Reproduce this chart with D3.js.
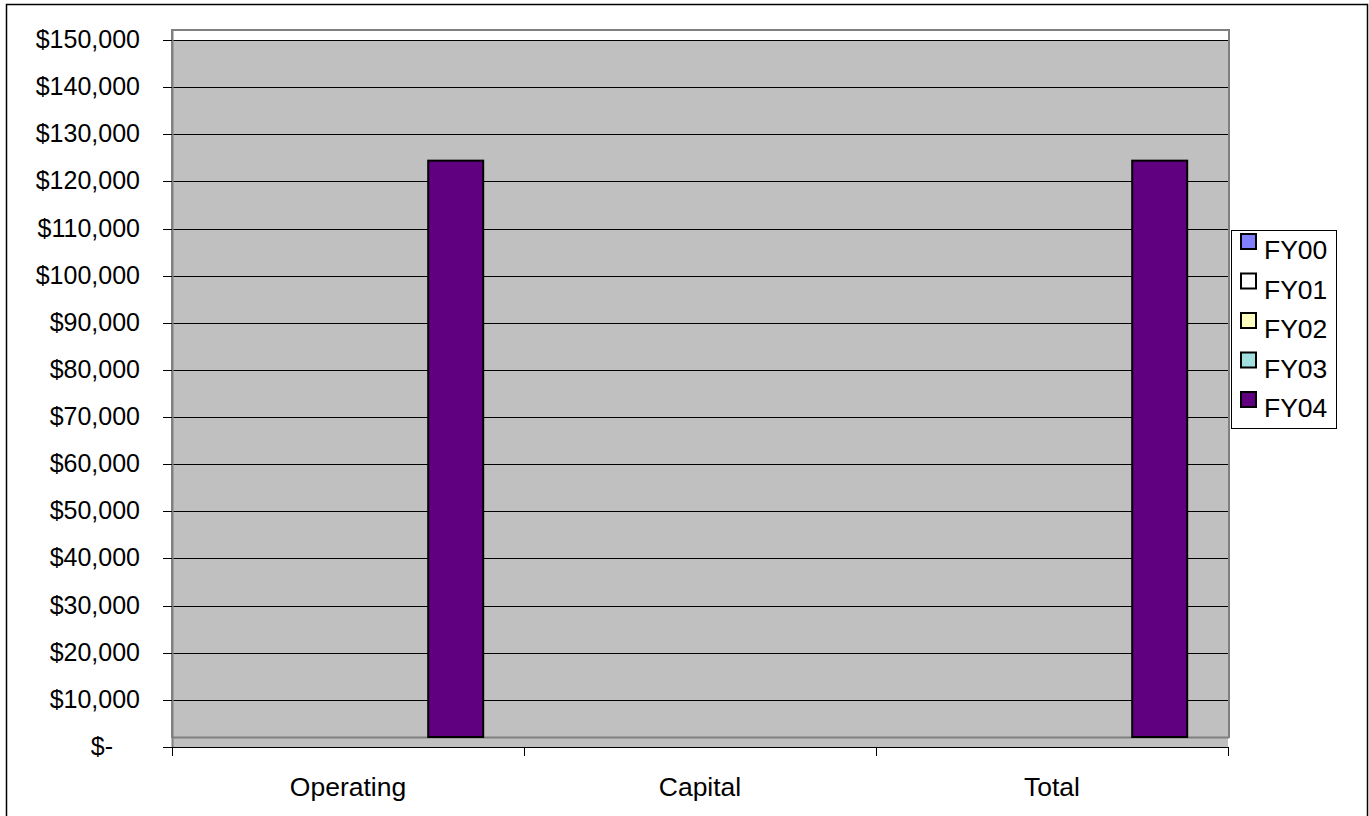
<!DOCTYPE html>
<html>
<head>
<meta charset="utf-8">
<script src="https://cdn.jsdelivr.net/npm/d3@7"></script>
<style>
  html, body { margin: 0; padding: 0; background: #fff; }
  svg { display: block; font-family: Arial, "Liberation Sans", sans-serif; }
</style>
</head>
<body>
<svg id="chart" width="1369" height="816"></svg>
<script>
// Budget categories and fiscal-year series
const categories = ["Operating", "Capital", "Total"];
const seriesNames = ["FY00", "FY01", "FY02", "FY03", "FY04"];
const seriesColors = ["#8080FF", "#FFFFFF", "#FFFFC0", "#A0E0E0", "#600080"];
const FY00 = [0, 0, 0];
const FY01 = [0, 0, 0];
const FY02 = [0, 0, 0];
const FY03 = [0, 0, 0];
const FY04 = [124400, 0, 124400];
const seriesValues = [FY00, FY01, FY02, FY03, FY04];
const yTicks = d3.range(0, 150001, 10000);

(function draw() {
  const svg = d3.select("#chart");

  // outer chart border
  svg.append("rect")
    .attr("x", 6.5).attr("y", 4.5)
    .attr("width", 1361).attr("height", 815)
    .attr("fill", "#fff").attr("stroke", "#000").attr("stroke-width", 1.5);

  const pLeft = 172, pRight = 1228, pTop = 40, pBottom = 747;
  const depth = 10; // floor depth of the plot wall

  const y = d3.scaleLinear().domain([0, 150000]).range([pBottom, pTop]);
  const x0 = d3.scaleBand().domain(categories).range([pLeft, pRight]).paddingInner(0).paddingOuter(0);
  const x1 = d3.scaleBand().domain(seriesNames).range([0, x0.bandwidth()])
    .paddingInner(0).paddingOuter(0.7).align(0.47);

  // plot wall
  const g = svg.append("g");
  g.append("rect")
    .attr("x", pLeft).attr("y", pTop - depth)
    .attr("width", pRight - pLeft + 1).attr("height", pBottom - pTop)
    .attr("fill", "#fff").attr("stroke", "#808080").attr("stroke-width", 2);
  g.append("rect")
    .attr("x", pLeft + 1).attr("y", pTop)
    .attr("width", pRight - pLeft - 1).attr("height", pBottom - depth - pTop)
    .attr("fill", "#C0C0C0");

  // floor
  g.append("rect")
    .attr("x", pLeft).attr("y", pBottom - depth)
    .attr("width", pRight - pLeft).attr("height", depth)
    .attr("fill", "#C0C0C0");
  g.append("line")
    .attr("x1", pLeft).attr("x2", pRight + 1)
    .attr("y1", pBottom - depth + 0.5).attr("y2", pBottom - depth + 0.5)
    .attr("stroke", "#808080").attr("stroke-width", 2);

  // gridlines
  g.selectAll("line.grid")
    .data(yTicks.filter(d => d > 0))
    .join("line")
    .attr("class", "grid")
    .attr("x1", pLeft).attr("x2", pRight)
    .attr("y1", d => Math.round(y(d)) + 0.5).attr("y2", d => Math.round(y(d)) + 0.5)
    .attr("stroke", "#000").attr("stroke-width", 1);

  // bars
  categories.forEach((cat, ci) => {
    seriesValues.forEach((vals, si) => {
      const v = vals[ci];
      if (v <= 0) return;
      g.append("rect")
        .attr("x", x0(cat) + x1(seriesNames[si]))
        .attr("y", y(v))
        .attr("width", x1.bandwidth())
        .attr("height", y(0) - depth - y(v))
        .attr("fill", seriesColors[si])
        .attr("stroke", "#000").attr("stroke-width", 2);
    });
  });

  // y axis
  const yAxis = svg.append("g");
  yAxis.append("line")
    .attr("x1", pLeft + 0.5).attr("x2", pLeft + 0.5)
    .attr("y1", pTop - depth).attr("y2", pBottom)
    .attr("stroke", "#808080").attr("stroke-width", 2);
  yAxis.selectAll("line.tick")
    .data(yTicks)
    .join("line")
    .attr("class", "tick")
    .attr("x1", pLeft - 9).attr("x2", pLeft)
    .attr("y1", d => Math.round(y(d)) + 0.5).attr("y2", d => Math.round(y(d)) + 0.5)
    .attr("stroke", "#000");
  const fmt = d3.format(",");
  yAxis.selectAll("text")
    .data(yTicks)
    .join("text")
    .attr("x", d => d === 0 ? 113 : 140)
    .attr("y", d => y(d) + 8)
    .attr("text-anchor", "end")
    .attr("font-size", 25)
    .attr("fill", "#000")
    .text(d => d === 0 ? "$-" : "$" + fmt(d));

  // x axis
  const xAxis = svg.append("g");
  xAxis.append("line")
    .attr("x1", pLeft).attr("x2", pRight + 1)
    .attr("y1", pBottom + 0.5).attr("y2", pBottom + 0.5)
    .attr("stroke", "#000");
  const bounds = categories.map(c => x0(c)).concat([pRight]);
  xAxis.selectAll("line.tick")
    .data(bounds)
    .join("line")
    .attr("class", "tick")
    .attr("x1", d => Math.round(d) + 0.5).attr("x2", d => Math.round(d) + 0.5)
    .attr("y1", pBottom).attr("y2", pBottom + 9)
    .attr("stroke", "#000");
  xAxis.selectAll("text")
    .data(categories)
    .join("text")
    .attr("x", d => x0(d) + x0.bandwidth() / 2)
    .attr("y", 796)
    .attr("text-anchor", "middle")
    .attr("font-size", 26.5)
    .attr("fill", "#000")
    .text(d => d);

  // legend
  const lg = svg.append("g");
  lg.append("rect")
    .attr("x", 1231.5).attr("y", 230.5)
    .attr("width", 105).attr("height", 198)
    .attr("fill", "#fff").attr("stroke", "#000").attr("stroke-width", 1);
  const items = lg.selectAll("g.item")
    .data(seriesNames)
    .join("g")
    .attr("class", "item")
    .attr("transform", (d, i) => `translate(0, ${i * 39.5})`);
  items.append("rect")
    .attr("x", 1241).attr("y", 234)
    .attr("width", 15).attr("height", 15)
    .attr("fill", (d, i) => seriesColors[i])
    .attr("stroke", "#000").attr("stroke-width", 2);
  items.append("text")
    .attr("x", 1264).attr("y", 259)
    .attr("font-size", 26.5)
    .attr("fill", "#000")
    .text(d => d);
})();
</script>
</body>
</html>
